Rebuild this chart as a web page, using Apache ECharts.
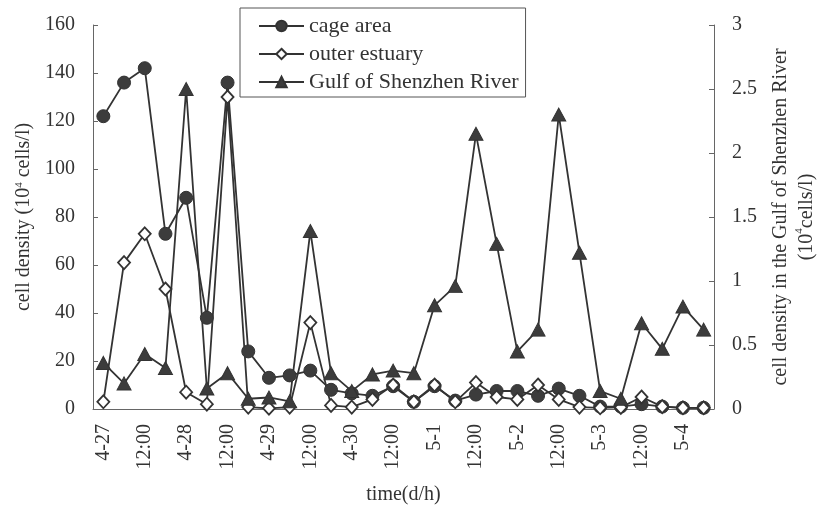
<!DOCTYPE html>
<html><head><meta charset="utf-8">
<script src="https://cdn.jsdelivr.net/npm/echarts@6/dist/echarts.min.js"></script>
<style>html,body{margin:0;padding:0;background:#fff}#c{width:823px;height:509px}</style>
</head><body><div id="c"></div>
<script>
const categories = ['4-27 00:00','4-27 06:00','4-27 12:00','4-27 18:00','4-28 00:00','4-28 06:00','4-28 12:00','4-28 18:00',
  '4-29 00:00','4-29 06:00','4-29 12:00','4-29 18:00','4-30 00:00','4-30 06:00','4-30 12:00','4-30 18:00',
  '5-1 00:00','5-1 06:00','5-1 12:00','5-1 18:00','5-2 00:00','5-2 06:00','5-2 12:00','5-2 18:00',
  '5-3 00:00','5-3 06:00','5-3 12:00','5-3 18:00','5-4 00:00','5-4 06:00'];
const tickLabels = ['4-27','','12:00','','4-28','','12:00','','4-29','','12:00','','4-30','','12:00','',
  '5-1','','12:00','','5-2','','12:00','','5-3','','12:00','','5-4',''];
const cageArea = [122,136,142,73,88,38,136,24,13,14,16,8,6.5,5.5,9.5,3,9.5,3.5,6,7.5,7.5,5.5,8.5,5.5,1,1,2,1,0.5,0.5];
const outerEstuary = [3,61,73,50,7,2,130,0.8,0.3,0.8,36,1.5,0.8,4,10,3,10,3,11,5,4,10,4,0.8,0.5,0.7,5,1,0.5,0.5];
const gulfShenzhen = [0.36,0.2,0.43,0.32,2.5,0.16,0.28,0.08,0.09,0.06,1.39,0.28,0.14,0.27,0.3,0.28,0.81,0.96,2.15,1.29,0.45,0.62,2.3,1.22,0.14,0.08,0.67,0.47,0.8,0.62];
const leftTicks = [0,20,40,60,80,100,120,140,160];
const rightTicks = [0,0.5,1,1.5,2,2.5,3];

const FONT = 'Liberation Serif';
const TXT = '#333';
const LINE = '#333';
const AX = '#666';
const chart = echarts.init(document.getElementById('c'), null, {renderer:'canvas'});
chart.setOption({
  animation:false,
  backgroundColor:'#fff',
  textStyle:{fontFamily:FONT,color:TXT},
  grid:{left:93,right:109,top:25,bottom:100,containLabel:false,outerBoundsMode:'none'},
  legend:{
    orient:'vertical', left:240, top:8,
    padding:[7,7,4,18], itemGap:6, itemWidth:45, itemHeight:13,
    borderColor:'#555', borderWidth:1,
    textStyle:{fontFamily:FONT,fontSize:22,color:TXT},
    data:['cage area','outer estuary','Gulf of Shenzhen River']
  },
  xAxis:{
    type:'category', data:categories, boundaryGap:true,
    axisLine:{lineStyle:{color:AX,width:1}},
    axisTick:{inside:true,length:4,interval:0,lineStyle:{color:AX}},
    axisLabel:{interval:0,rotate:90,margin:15,fontFamily:FONT,fontSize:20,color:TXT,
      formatter:(v,i)=>tickLabels[i]},
    name:'time(d/h)', nameLocation:'middle', nameGap:76,
    nameTextStyle:{fontFamily:FONT,fontSize:20,color:TXT}
  },
  yAxis:[{
    type:'value', min:leftTicks[0], max:leftTicks[leftTicks.length-1], interval:20,
    splitLine:{show:false},
    axisLine:{show:true,lineStyle:{color:AX}},
    axisTick:{show:true,inside:true,length:5,lineStyle:{color:AX}},
    axisLabel:{margin:18,fontFamily:FONT,fontSize:20,color:TXT},
    name:'cell density (10{sup|4} cells/l)', nameLocation:'middle', nameGap:58,
    nameTextStyle:{fontFamily:FONT,fontSize:20,color:TXT,rich:{sup:{fontSize:11,verticalAlign:'top',padding:[0,0,8,0],fontFamily:FONT,color:TXT}}}
  },{
    type:'value', min:rightTicks[0], max:rightTicks[rightTicks.length-1], interval:0.5,
    position:'right',
    splitLine:{show:false},
    axisLine:{show:true,lineStyle:{color:AX}},
    axisTick:{show:true,inside:true,length:5,lineStyle:{color:AX}},
    axisLabel:{margin:18,fontFamily:FONT,fontSize:20,color:TXT},
    name:'cell density in the Gulf of Shenzhen River\n(10{sup|4}cells/l)', nameLocation:'middle', nameGap:54,
    nameRotate:90,
    nameTextStyle:{fontFamily:FONT,fontSize:20,color:TXT,align:'center',lineHeight:26,
      rich:{sup:{fontSize:11,verticalAlign:'top',padding:[0,0,8,0],fontFamily:FONT,color:TXT}}}
  }],
  series:[{
    name:'cage area', type:'line', data:cageArea, yAxisIndex:0,
    symbol:'circle', symbolSize:13,
    lineStyle:{color:LINE,width:1.8}, itemStyle:{color:'#3c3c3c',borderColor:'#333',borderWidth:1}
  },{
    name:'outer estuary', type:'line', data:outerEstuary, yAxisIndex:0,
    symbol:'diamond', symbolSize:[12,13],
    lineStyle:{color:LINE,width:1.8}, itemStyle:{color:'#fff',borderColor:'#333',borderWidth:1.8}
  },{
    name:'Gulf of Shenzhen River', type:'line', data:gulfShenzhen, yAxisIndex:1,
    symbol:'triangle', symbolSize:[14,13],
    lineStyle:{color:LINE,width:1.8}, itemStyle:{color:'#3c3c3c',borderColor:'#333',borderWidth:1}
  }]
});
</script></body></html>
